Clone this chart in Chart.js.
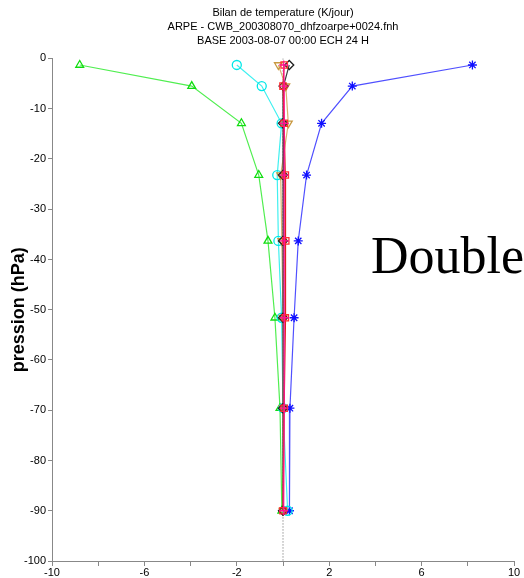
<!DOCTYPE html>
<html>
<head>
<meta charset="utf-8">
<script src="https://cdn.jsdelivr.net/npm/chart.js@4/dist/chart.umd.min.js"></script>
<style>
  html, body { margin: 0; padding: 0; background: #fff; }
  #wrap { position: relative; width: 524px; height: 578px; }
</style>
</head>
<body>
<div id="wrap"><canvas id="c" width="524" height="578"></canvas></div>
<script>
// Model levels (hPa offsets) shared by every profile
const levels = [-1.3, -5.5, -12.9, -23.2, -36.3, -51.6, -69.6, -90.0];

// Temperature tendency terms (K/jour), one value per level
const termMagenta = [0.03, 0.05, 0.05, 0.05, 0.06, 0.06, 0.05, 0.03];
const termRed     = [0.05, 0.00, 0.05, 0.10, 0.12, 0.10, 0.05, 0.00];
const termBlack   = [0.27, 0.02, 0.00, 0.00, 0.00, 0.00, 0.00, 0.00];
const termTan     = [-0.20, 0.12, 0.23, -0.10, -0.05, 0.00, 0.00, 0.00];
const termCyan    = [-2.00, -0.92, -0.06, -0.25, -0.20, -0.06, 0.00, 0.20];
const termBlue    = [8.20, 3.00, 1.67, 1.02, 0.66, 0.48, 0.30, 0.28];
const termGreen   = [-8.80, -3.95, -1.80, -1.05, -0.65, -0.35, -0.13, -0.05];

// Axis ranges and labels
const xRange = [-10, 10];
const yRange = [-100, 0];
const xLabelled = [-10, -6, -2, 2, 6, 10];

const titleLines = [
  'Bilan de temperature (K/jour)',
  'ARPE - CWB_200308070_dhfzoarpe+0024.fnh',
  'BASE 2003-08-07 00:00 ECH 24 H'
];
const yTitle = 'pression (hPa)';
const sideNote = 'Double';

function profile(values, lineColor, markColor, style, rot) {
  return {
    data: values.map((v, i) => ({ x: v, y: levels[i] })),
    showLine: true,
    borderColor: lineColor,
    borderWidth: 1.2,
    pointStyle: style,
    rotation: rot || 0,
    pointRadius: 4.5,
    pointBorderWidth: 1.3,
    pointBorderColor: markColor,
    pointBackgroundColor: 'rgba(0,0,0,0)',
    tension: 0
  };
}

const datasets = [
  profile(termMagenta, '#ff1493', '#ff1493', 'cross'),
  profile(termRed, '#e02020', '#ff3030', 'rect'),
  profile(termBlack, '#404040', '#202020', 'rectRot'),
  profile(termTan, '#d8b070', '#c89840', 'triangle', 180),
  profile(termCyan, '#40f0f0', '#00e8e8', 'circle'),
  profile(termBlue, '#5050ff', '#1010ff', 'star'),
  profile(termGreen, '#50ee50', '#10dd10', 'triangle'),
  {
    // zero reference line
    data: [{ x: 0, y: yRange[1] }, { x: 0, y: yRange[0] }],
    showLine: true,
    borderColor: '#606060',
    borderWidth: 1,
    borderDash: [1, 2],
    pointRadius: 0
  }
];

const notePlugin = {
  id: 'note',
  afterDraw(chart) {
    const ctx = chart.ctx;
    ctx.save();
    ctx.fillStyle = '#000';
    ctx.font = '52px "Liberation Serif", "Times New Roman", serif';
    ctx.textBaseline = 'alphabetic';
    ctx.textAlign = 'left';
    ctx.fillText(sideNote, 371, 273);
    ctx.restore();
  }
};

new Chart(document.getElementById('c'), {
  type: 'scatter',
  data: { datasets },
  plugins: [notePlugin],
  options: {
    responsive: false,
    animation: false,
    events: [],
    layout: { padding: { left: 0, right: 10, top: 0, bottom: 0 } },
    plugins: {
      legend: { display: false },
      tooltip: { enabled: false },
      title: {
        display: true,
        fullSize: false,
        text: titleLines,
        color: '#000',
        font: { family: '"Liberation Sans", Arial, sans-serif', size: 11, weight: 'normal', lineHeight: 1.25 },
        padding: { top: 6.5, bottom: 10.7 }
      }
    },
    scales: {
      x: {
        type: 'linear',
        min: xRange[0],
        max: xRange[1],
        afterFit(s) { s.height = 17; },
        border: { display: true, color: '#888', width: 1 },
        grid: { display: true, drawOnChartArea: false, drawTicks: true, tickLength: 5, color: '#888' },
        ticks: {
          stepSize: 2,
          padding: 0,
          color: '#000',
          maxRotation: 0,
          autoSkip: false,
          font: { family: '"Liberation Sans", Arial, sans-serif', size: 11 },
          callback: (v) => xLabelled.includes(v) ? String(v) : ''
        }
      },
      y: {
        type: 'linear',
        min: yRange[0],
        max: yRange[1],
        afterFit(s) { s.width = 52; },
        border: { display: true, color: '#888', width: 1 },
        grid: { display: true, drawOnChartArea: false, drawTicks: true, tickLength: 4, color: '#888' },
        title: {
          display: true,
          text: yTitle,
          color: '#000',
          font: { family: '"Liberation Sans", Arial, sans-serif', size: 18, weight: 'bold', lineHeight: 1.2 },
          padding: { top: 8, bottom: 0 }
        },
        ticks: {
          stepSize: 10,
          padding: 2,
          color: '#000',
          autoSkip: false,
          font: { family: '"Liberation Sans", Arial, sans-serif', size: 11 }
        }
      }
    }
  }
});
</script>
</body>
</html>
